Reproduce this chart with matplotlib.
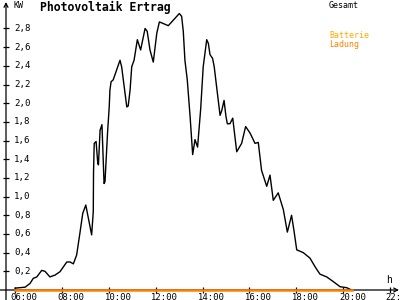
import matplotlib
matplotlib.use('Agg')
import matplotlib.pyplot as plt

# PV output (kW) over the day, hours as decimals
stunden = [6.00, 6.43, 6.64, 6.78, 6.93, 7.14, 7.28, 7.49, 7.71, 7.92,
           8.21, 8.35, 8.49, 8.63, 8.77, 8.89, 9.02, 9.20, 9.27, 9.34,
           9.35, 9.38, 9.46, 9.53, 9.56, 9.63, 9.71, 9.80, 9.84, 9.95,
           10.02, 10.05, 10.10, 10.19, 10.48, 10.55, 10.77, 10.83, 10.91, 10.98,
           11.08, 11.22, 11.36, 11.55, 11.64, 11.76, 11.90, 12.05, 12.16, 12.26,
           12.54, 12.83, 13.01, 13.11, 13.18, 13.25, 13.35, 13.47, 13.58, 13.68,
           13.79, 13.92, 14.03, 14.18, 14.25, 14.32, 14.43, 14.50, 14.60, 14.75,
           14.82, 14.92, 15.00, 15.06, 15.17, 15.29, 15.46, 15.67, 15.84, 16.03,
           16.24, 16.38, 16.52, 16.74, 16.88, 17.02, 17.23, 17.45, 17.62, 17.80,
           17.90, 18.02, 18.30, 18.59, 18.80, 19.01, 19.30, 19.58, 19.87, 20.15,
           20.36]
gesamt = [0.02, 0.03, 0.07, 0.125, 0.14, 0.21, 0.20, 0.14, 0.16, 0.196,
          0.30, 0.30, 0.28, 0.375, 0.61, 0.82, 0.91, 0.68, 0.59, 0.84,
          1.25, 1.57, 1.59, 1.36, 1.34, 1.71, 1.77, 1.14, 1.16, 1.69,
          1.96, 2.14, 2.23, 2.25, 2.46, 2.39, 1.96, 1.97, 2.14, 2.39,
          2.46, 2.68, 2.57, 2.80, 2.77, 2.57, 2.44, 2.75, 2.87, 2.86,
          2.83, 2.91, 2.96, 2.93, 2.77, 2.46, 2.25, 1.86, 1.45, 1.61,
          1.53, 1.93, 2.39, 2.68, 2.64, 2.52, 2.48, 2.39, 2.18, 1.87,
          1.92, 2.03, 1.86, 1.78, 1.78, 1.84, 1.48, 1.57, 1.75, 1.68,
          1.57, 1.58, 1.28, 1.11, 1.23, 0.96, 1.04, 0.86, 0.62, 0.80,
          0.64, 0.43, 0.40, 0.34, 0.25, 0.17, 0.14, 0.09, 0.035, 0.025,
          0.0]
ladung = [0.0] * len(stunden)

x_ticks = [6, 8, 10, 12, 14, 16, 18, 20, 22]
x_labels = ['06:00', '08:00', '10:00', '12:00', '14:00', '16:00', '18:00', '20:00', '22:']
y_ticks = [0.2, 0.4, 0.6, 0.8, 1.0, 1.2, 1.4, 1.6, 1.8, 2.0, 2.2, 2.4, 2.6, 2.8]

mono = 'DejaVu Sans Mono'
PX = 23.4375   # pixel pro Stunde
PY = 93.4      # pixel pro kW
x0 = 6 - 15 / PX
yachse = x0 + 6 / PX

fig = plt.figure(figsize=(4, 3), dpi=100)
ax = fig.add_axes([0, 0, 1, 1])
ax.set_xlim(x0, x0 + 400 / PX)
ax.set_ylim(-10 / PY, 290 / PY)

for s in ax.spines.values():
    s.set_visible(False)
ax.spines['bottom'].set_position(('data', 0))
ax.spines['left'].set_position(('data', yachse))

# Achsen mit Pfeilen
ax.annotate('', xy=(x0 + 399 / PX, 0), xytext=(x0, 0),
            arrowprops=dict(arrowstyle='->', lw=0.9, color='black',
                            shrinkA=0, shrinkB=0, mutation_scale=7))
ax.annotate('', xy=(yachse, 288 / PY), xytext=(yachse, -10 / PY),
            arrowprops=dict(arrowstyle='->', lw=0.9, color='black',
                            shrinkA=0, shrinkB=0, mutation_scale=7))

ax.set_xticks(x_ticks)
ax.set_yticks(y_ticks)
ax.tick_params(axis='both', direction='inout', length=5, width=0.9,
               labelbottom=False, labelleft=False)

for t, lab in zip(x_ticks, x_labels):
    ax.annotate(lab, (t, 0), xytext=(-3, -2.0), textcoords='offset points',
                ha='left', va='top', family=mono, fontsize=6.4,
                annotation_clip=False)
for v in y_ticks:
    ax.annotate(('%.1f' % v).replace('.', ','), (yachse, v), xytext=(5.8, 0),
                textcoords='offset points', ha='left', va='center',
                family=mono, fontsize=6.6)

ax.plot(stunden, gesamt, color='black', lw=1.0, zorder=3)
ax.plot(stunden, ladung, color='#ff8000', lw=1.8, zorder=4)

fig.text(13 / 400, 1 - 5 / 300, 'KW', family=mono, fontsize=6, va='center', ha='left')
fig.text(40 / 400, 1 - 7 / 300, 'Photovoltaik Ertrag', family=mono, fontsize=8.3,
         fontweight='bold', va='center', ha='left')
fig.text(329 / 400, 1 - 5 / 300, 'Gesamt', family=mono, fontsize=6, va='center', ha='left')
fig.text(329 / 400, 1 - 36 / 300, 'Batterie', family=mono, fontsize=6,
         color='#ffaa00', va='center', ha='left')
fig.text(329 / 400, 1 - 44 / 300, 'Ladung', family=mono, fontsize=6,
         color='#ff8000', va='center', ha='left')
fig.text(386 / 400, 1 - 280 / 300, 'h', family=mono, fontsize=7, va='center', ha='left')

fig.savefig('out.png', dpi=100)
